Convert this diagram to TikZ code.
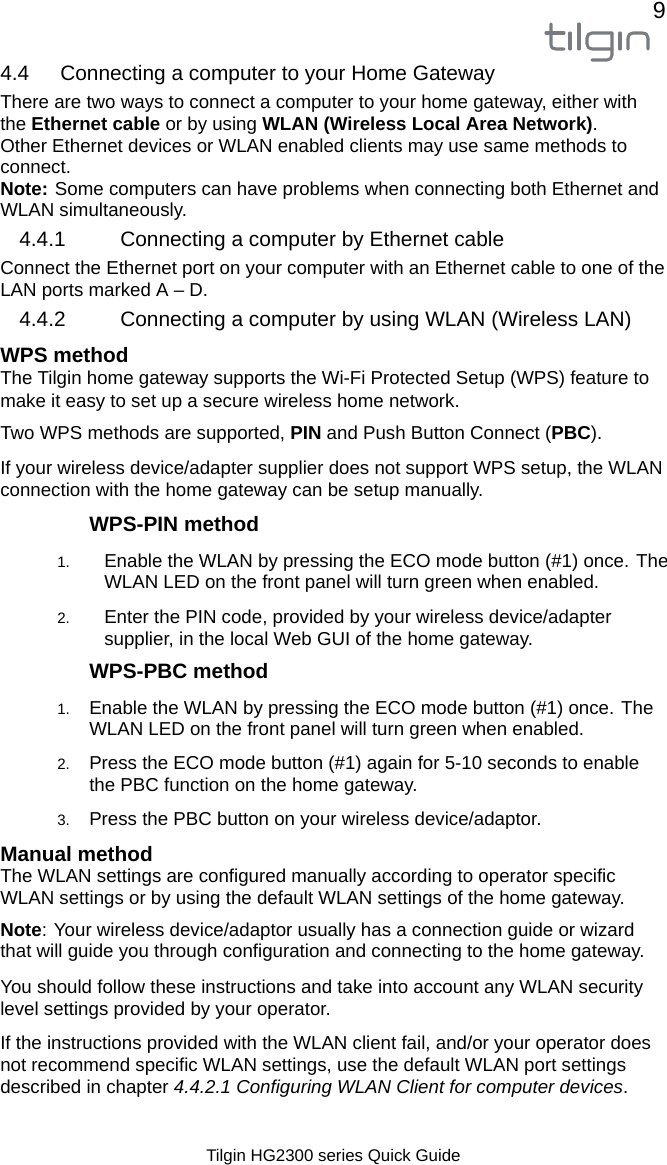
\documentclass[tikz,border=0pt]{standalone}
\usepackage{fontspec}
\setmainfont{Liberation Sans}
\usetikzlibrary{positioning}
\definecolor{logogray}{RGB}{120,124,128}
\tikzset{
  pagetext/.style={anchor=base west,inner sep=0pt,font=\fontsize{14.03}{16}\selectfont},
  sechead/.style={anchor=base west,inner sep=0pt,font=\fontsize{15.65}{18}\selectfont},
  boldhead/.style={anchor=base west,inner sep=0pt,font=\fontsize{15.6}{18}\selectfont\bfseries},
  numlabel/.style={anchor=base west,inner sep=0pt,font=\fontsize{11.3}{13}\selectfont},
  logoline/.style={draw=logogray,line width=2.3pt,line cap=round,line join=round}
}
\begin{document}
\begin{tikzpicture}[x=0.75pt,y=-0.75pt]
\useasboundingbox (0,0) rectangle (667,1165);

% Logo
\draw[logoline] (551,24) -- (551,44) .. controls (551,48) and (553,49) .. (556,49) -- (564,49);
\draw[logoline] (546,33) -- (564,33);
\draw[logoline] (570,33) -- (570,49);
\draw[logoline] (579,24) -- (579,49);
\draw[logoline] (612,33) -- (592,33) .. controls (589,33) and (587,35) .. (587,38) -- (587,44) .. controls (587,47) and (589,49) .. (592,49) -- (612,49);
\draw[logoline] (612,33) -- (612,55) .. controls (612,58) and (610,60) .. (607,60) -- (592,60);
\draw[logoline] (620,33) -- (620,49);
\draw[logoline] (628,49) -- (628,38) .. controls (628,35) and (630,33) .. (633,33) -- (642,33) .. controls (646,33) and (648,35) .. (648,38) -- (648,49);
\node[anchor=base east,inner sep=0pt,font=\fontsize{17.5}{20}\selectfont] (pagenum) at (666,18) {9};

% Section 4.4
\node[sechead] (h44num) at (0,80) {4.4};
\node[sechead] (h44) at (60,80) {Connecting a computer to your Home Gateway};
\node[pagetext] (a1) at (0,108) {There are two ways to connect a computer to your home gateway, either with};
\node[pagetext] (a2) at (0,130.5) {the \textbf{Ethernet cable} or by using \textbf{WLAN (Wireless Local Area Network)}.};
\node[pagetext] (a3) at (0,152) {Other Ethernet devices or WLAN enabled clients may use same methods to};
\node[pagetext] (a4) at (0,173) {connect.};
\node[pagetext] (a5) at (0,195.5) {\textbf{Note:} Some computers can have problems when connecting both Ethernet and};
\node[pagetext] (a6) at (0,216) {WLAN simultaneously.};

% Section 4.4.1
\node[sechead] (h441num) at (19,246) {4.4.1};
\node[sechead] (h441) at (120,246) {Connecting a computer by Ethernet cable};
\node[pagetext] (b1) at (0,274.5) {Connect the Ethernet port on your computer with an Ethernet cable to one of the};
\node[pagetext] (b2) at (0,296) {LAN ports marked A -- D.};

% Section 4.4.2
\node[sechead] (h442num) at (19,326) {4.4.2};
\node[sechead] (h442) at (120,326) {Connecting a computer by using WLAN (Wireless LAN)};
\node[boldhead] (wps) at (0,362) {WPS method};
\node[pagetext] (c1) at (0,384.5) {The Tilgin home gateway supports the Wi-Fi Protected Setup (WPS) feature to};
\node[pagetext] (c2) at (0,407) {make it easy to set up a secure wireless home network.};
\node[pagetext] (c3) at (0,439) {Two WPS methods are supported, \textbf{PIN} and Push Button Connect (\textbf{PBC}).};
\node[pagetext] (c4) at (0,474) {If your wireless device/adapter supplier does not support WPS setup, the WLAN};
\node[pagetext] (c5) at (0,496) {connection with the home gateway can be setup manually.};

% WPS-PIN
\node[boldhead] (pin) at (89,531) {WPS-PIN method};
\node[numlabel] (pin1n) at (57,567.5) {1.};
\node[pagetext] (pin1a) at (104,567.5) {Enable the WLAN by pressing the ECO mode button (\#1) once. The};
\node[pagetext] (pin1b) at (104,588) {WLAN LED on the front panel will turn green when enabled.};
\node[numlabel] (pin2n) at (57,623) {2.};
\node[pagetext] (pin2a) at (104,623) {Enter the PIN code, provided by your wireless device/adapter};
\node[pagetext] (pin2b) at (104,645) {supplier, in the local Web GUI of the home gateway.};

% WPS-PBC
\node[boldhead] (pbc) at (89,678) {WPS-PBC method};
\node[numlabel] (pbc1n) at (57,714.5) {1.};
\node[pagetext] (pbc1a) at (89,714.5) {Enable the WLAN by pressing the ECO mode button (\#1) once. The};
\node[pagetext] (pbc1b) at (89,735) {WLAN LED on the front panel will turn green when enabled.};
\node[numlabel] (pbc2n) at (57,769) {2.};
\node[pagetext] (pbc2a) at (89,769) {Press the ECO mode button (\#1) again for 5-10 seconds to enable};
\node[pagetext] (pbc2b) at (89,791) {the PBC function on the home gateway.};
\node[numlabel] (pbc3n) at (57,825) {3.};
\node[pagetext] (pbc3a) at (89,825) {Press the PBC button on your wireless device/adaptor.};

% Manual
\node[boldhead] (manual) at (0,861) {Manual method};
\node[pagetext] (d1) at (0,882) {The WLAN settings are configured manually according to operator specific};
\node[pagetext] (d2) at (0,904.5) {WLAN settings or by using the default WLAN settings of the home gateway.};
\node[pagetext] (d3) at (0,936) {\textbf{Note}: Your wireless device/adaptor usually has a connection guide or wizard};
\node[pagetext] (d4) at (0,957.5) {that will guide you through configuration and connecting to the home gateway.};
\node[pagetext] (d5) at (0,993.5) {You should follow these instructions and take into account any WLAN security};
\node[pagetext] (d6) at (0,1015.5) {level settings provided by your operator.};
\node[pagetext] (d7) at (0,1049.5) {If the instructions provided with the WLAN client fail, and/or your operator does};
\node[pagetext] (d8) at (0,1071.5) {not recommend specific WLAN settings, use the default WLAN port settings};
\node[pagetext] (d9) at (0,1093) {described in chapter \textit{4.4.2.1 Configuring WLAN Client for computer devices}.};

% Footer
\node[pagetext,font=\fontsize{12.65}{15}\selectfont] (footer) at (206,1161) {Tilgin HG2300 series Quick Guide};
\end{tikzpicture}
\end{document}
